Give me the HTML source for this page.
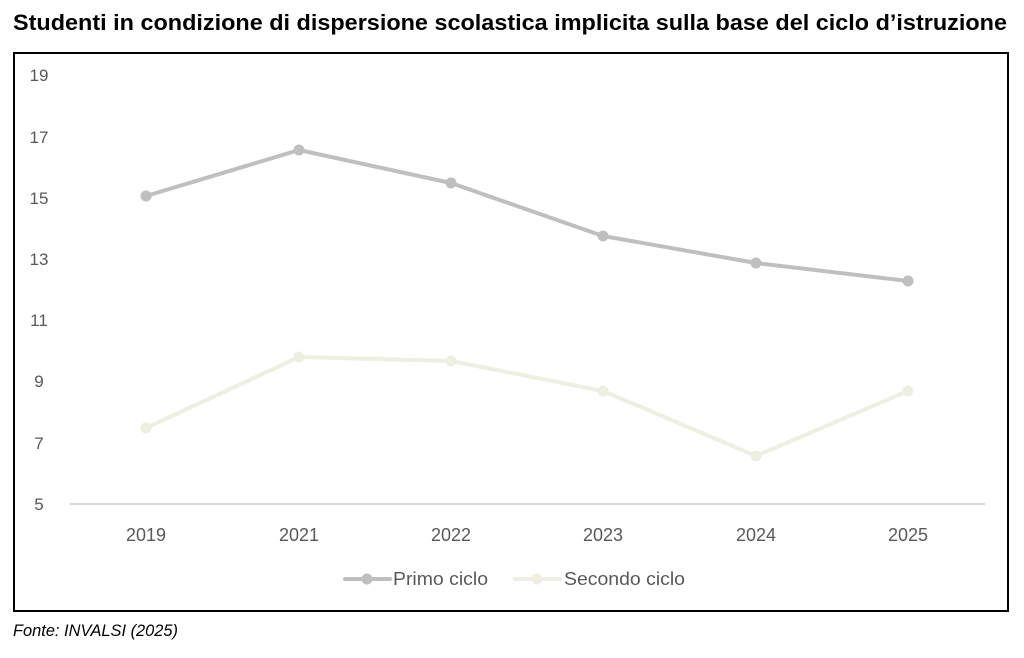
<!DOCTYPE html>
<html><head><meta charset="utf-8"><style>
html,body{margin:0;padding:0;background:#fff;}
body{width:1024px;height:658px;overflow:hidden;}
svg{display:block;}
</style></head><body>
<svg width="1024" height="658" viewBox="0 0 1024 658" xmlns="http://www.w3.org/2000/svg" font-family="'Liberation Sans', sans-serif">
<rect width="1024" height="658" fill="#fff"/>
<text x="13" y="30" font-size="22" font-weight="bold" fill="#000" textLength="994" lengthAdjust="spacingAndGlyphs">Studenti in condizione di dispersione scolastica implicita sulla base del ciclo d’istruzione</text>
<rect x="14" y="53" width="994" height="558" fill="#fff" stroke="#000" stroke-width="2"/>
<g font-size="17" fill="#595959" text-anchor="middle">
<text x="39" y="81">19</text>
<text x="39" y="143">17</text>
<text x="39" y="204">15</text>
<text x="39" y="265">13</text>
<text x="39" y="326">11</text>
<text x="39" y="387">9</text>
<text x="39" y="449">7</text>
<text x="39" y="510">5</text>
</g>
<line x1="70" y1="504" x2="985" y2="504" stroke="#d9d9d9" stroke-width="2"/>
<g font-size="18" fill="#595959" text-anchor="middle">
<text x="146" y="541">2019</text>
<text x="299" y="541">2021</text>
<text x="451" y="541">2022</text>
<text x="603" y="541">2023</text>
<text x="756" y="541">2024</text>
<text x="908" y="541">2025</text>
</g>
<polyline points="146,196 299,150 451,183 603,236 756,263 908,281" fill="none" stroke="#bfbfbf" stroke-width="4" stroke-linejoin="round"/>
<g fill="#bfbfbf">
<circle cx="146" cy="196" r="5.5"/><circle cx="299" cy="150" r="5.5"/><circle cx="451" cy="183" r="5.5"/><circle cx="603" cy="236" r="5.5"/><circle cx="756" cy="263" r="5.5"/><circle cx="908" cy="281" r="5.5"/>
</g>
<polyline points="146,428 299,357 451,361 603,391 756,456 908,391" fill="none" stroke="#eeeee2" stroke-width="4" stroke-linejoin="round"/>
<g fill="#eeeee2">
<circle cx="146" cy="428" r="5.5"/><circle cx="299" cy="357" r="5.5"/><circle cx="451" cy="361" r="5.5"/><circle cx="603" cy="391" r="5.5"/><circle cx="756" cy="456" r="5.5"/><circle cx="908" cy="391" r="5.5"/>
</g>
<line x1="345" y1="579" x2="390" y2="579" stroke="#bfbfbf" stroke-width="4" stroke-linecap="round"/>
<circle cx="367" cy="579" r="5.5" fill="#bfbfbf"/>
<text x="393" y="585" font-size="18" fill="#595959" textLength="95" lengthAdjust="spacingAndGlyphs">Primo ciclo</text>
<line x1="515" y1="579" x2="560" y2="579" stroke="#eeeee2" stroke-width="4" stroke-linecap="round"/>
<circle cx="537" cy="579" r="5.5" fill="#eeeee2"/>
<text x="564" y="585" font-size="18" fill="#595959" textLength="121" lengthAdjust="spacingAndGlyphs">Secondo ciclo</text>
<text x="13" y="636" font-size="16.5" font-style="italic" fill="#000" textLength="165" lengthAdjust="spacingAndGlyphs">Fonte: INVALSI (2025)</text>
</svg>
</body></html>
